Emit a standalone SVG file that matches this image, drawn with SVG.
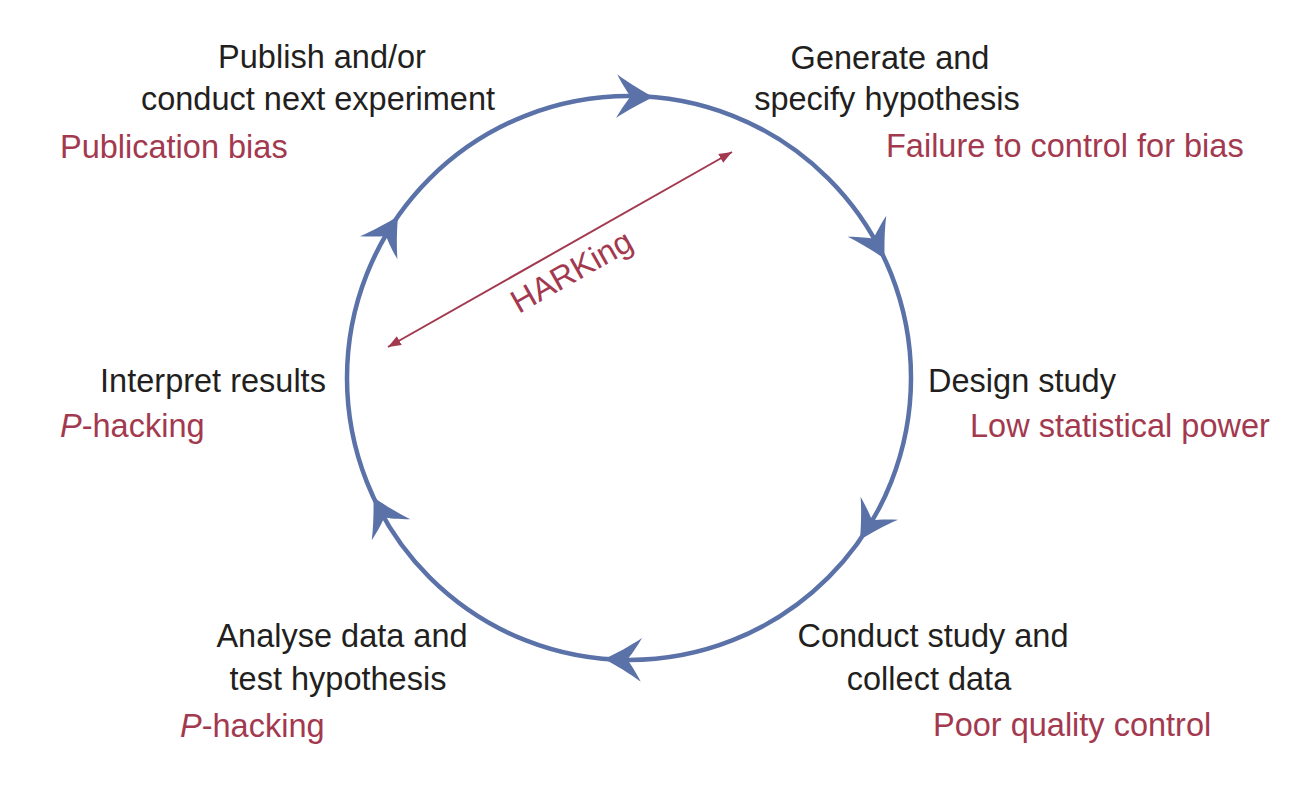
<svg xmlns="http://www.w3.org/2000/svg" xmlns:xlink="http://www.w3.org/1999/xlink" width="1298" height="802" viewBox="0 0 1298 802">
<style>
.lbl{font-family:"Liberation Sans",Arial,sans-serif;font-size:32.5px;fill:#231f20;text-anchor:middle}
.bias{font-family:"Liberation Sans",Arial,sans-serif;font-size:32.5px;fill:#a3394f}
.cyc{fill:none;stroke:#5b72a9;stroke-width:4.5}
.head{fill:#5b72a9}
.hark{stroke:#a3394f;stroke-width:2;fill:none}
</style>
<defs>
<path id="ah" d="M0,0 C-10,-5 -26,-14 -37,-22 C-31,-11 -26,-4 -23,0 C-26,4 -31,11 -37,22 C-26,14 -10,5 0,0 Z"/>
<marker id="rh" viewBox="0 0 13 10" refX="13" refY="5" markerWidth="13" markerHeight="10" markerUnits="userSpaceOnUse" orient="auto-start-reverse">
<path d="M0,0 L13,5 L0,10 Z" fill="#a3394f"/>
</marker>
</defs>
<rect width="1298" height="802" fill="#ffffff"/>
<g id="connectors">
<circle class="cyc" cx="629" cy="378" r="282"/>
<use xlink:href="#ah" class="head" transform="translate(653.6,97.1) rotate(1.5)"/>
<use xlink:href="#ah" class="head" transform="translate(884.6,258.8) rotate(61.5)"/>
<use xlink:href="#ah" class="head" transform="translate(860,539.7) rotate(121.5)"/>
<use xlink:href="#ah" class="head" transform="translate(604.4,658.9) rotate(181.5)"/>
<use xlink:href="#ah" class="head" transform="translate(373.4,497.2) rotate(241.5)"/>
<use xlink:href="#ah" class="head" transform="translate(398,216.3) rotate(301.5)"/>
<line class="hark" x1="388" y1="347" x2="732" y2="152" marker-start="url(#rh)" marker-end="url(#rh)"/>
<text class="bias" x="577" y="281" text-anchor="middle" transform="rotate(-29.5 577 281)">HARKing</text>
</g>
<g id="publish">
<text class="lbl" x="322" y="68">Publish and/or</text>
<text class="lbl" x="318" y="110">conduct next experiment</text>
<text class="bias" x="60" y="158">Publication bias</text>
</g>
<g id="generate">
<text class="lbl" x="890" y="69">Generate and</text>
<text class="lbl" x="887" y="110">specify hypothesis</text>
<text class="bias" x="886" y="157">Failure to control for bias</text>
</g>
<g id="design">
<text class="lbl" x="1022" y="392">Design study</text>
<text class="bias" x="970" y="437">Low statistical power</text>
</g>
<g id="conduct">
<text class="lbl" x="933" y="647">Conduct study and</text>
<text class="lbl" x="929" y="690">collect data</text>
<text class="bias" x="933" y="736">Poor quality control</text>
</g>
<g id="analyse">
<text class="lbl" x="342" y="647">Analyse data and</text>
<text class="lbl" x="338" y="690">test hypothesis</text>
<text class="bias" x="180" y="737"><tspan font-style="italic">P</tspan>-hacking</text>
</g>
<g id="interpret">
<text class="lbl" x="213" y="392">Interpret results</text>
<text class="bias" x="60" y="437"><tspan font-style="italic">P</tspan>-hacking</text>
</g>
</svg>
